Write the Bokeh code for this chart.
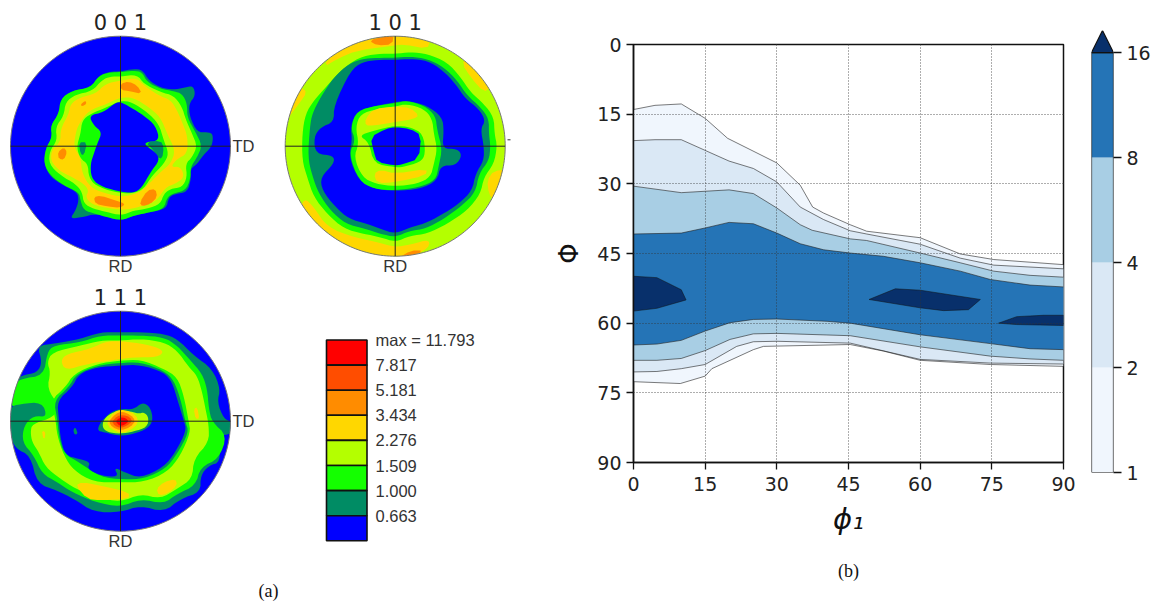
from bokeh.plotting import figure
from bokeh.layouts import row, column
from bokeh.models import FixedTicker, Range1d, Title
from bokeh.core.properties import value
from bokeh.embed import file_html
from bokeh.resources import INLINE
import numpy as np

# ---------- (a) pole-figure data: contour outlines ----------
LEGEND_LABELS = ["max = 11.793", "7.817", "5.181", "3.434", "2.276", "1.509", "1.000", "0.663"]
LEGEND_COLORS = ["#ff0000", "#ff4d00", "#ff8c00", "#ffd700", "#b4ff00", "#14ff00", "#008c64", "#0000ff"]
RED, RORANGE, ORANGE, YELLOW, LIME, GREEN, TEAL, BLUE = LEGEND_COLORS

P001 = [
 (TEAL, [(360,213),(400,205),(425,208),(445,240),(480,262),(520,268),(550,262),(578,255),(585,285),(565,310),(568,350),(590,395),(620,395),(638,400),(635,437),(610,462),(590,490),(570,505),(572,535),(560,575),(525,580),(505,590),(497,625),(450,635),(400,645),(362,660),(320,650),(285,640),(245,650),(208,655),(225,630),(235,600),(230,575),(190,555),(150,530),(130,490),(135,445),(155,410),(150,375),(175,340),(180,295),(215,270),(270,262),(295,225),(330,213)]),
 (GREEN, [(360,215),(400,210),(425,215),(440,245),(480,265),(520,272),(545,280),(560,310),(560,350),(585,395),(605,435),(590,470),(570,500),(570,535),(555,570),(520,578),(500,590),(490,625),(450,635),(400,645),(362,660),(320,650),(285,640),(250,630),(240,600),(235,575),(190,555),(150,525),(130,490),(135,445),(155,410),(150,375),(175,340),(180,295),(215,270),(270,262),(295,225),(330,215)]),
 (LIME, [(360,228),(410,222),(430,250),(480,275),(520,285),(545,320),(555,355),(575,400),(590,437),(575,470),(555,490),(560,530),(545,560),(510,565),(490,580),(480,610),(440,625),(400,630),(362,645),(320,635),(280,625),(250,610),(245,575),(225,550),(180,525),(145,490),(148,450),(170,420),(165,380),(190,345),(195,305),(225,282),(275,272),(305,238),(330,228)]),
 (YELLOW, [(360,240),(410,232),(430,255),(475,285),(510,298),(530,330),(545,365),(562,410),(560,460),(530,475),(510,500),(540,498),(552,530),(525,550),(495,560),(470,600),(430,615),(380,628),(330,625),(275,612),(255,590),(265,570),(250,550),(215,530),(175,510),(150,480),(155,445),(180,425),(180,385),(205,340),(210,310),(240,290),(285,280),(315,250)]),
 (LIME, [(360,290),(400,292),(445,320),(480,350),(500,400),(525,450),(510,490),(485,510),(450,545),(420,575),(370,590),(310,578),(270,560),(245,520),(240,470),(220,440),(225,400),(235,370),(265,330),(320,310)]),
 (GREEN, [(360,300),(395,305),(440,335),(475,370),(490,420),(505,460),(490,490),(455,525),(430,565),(395,580),(340,575),(285,555),(265,530),(262,490),(240,475),(228,440),(240,400),(245,360),(270,340),(320,320)]),
 (TEAL, [(435,425),(480,420),(490,440),(485,475),(470,470),(460,450)]),
 (TEAL, [(235,425),(260,425),(250,465),(240,460)]),
 (BLUE, [(358,303),(390,320),(430,345),(465,375),(478,420),(435,425),(435,435),(465,455),(478,478),(450,515),(425,560),(400,578),(350,572),(295,555),(272,530),(270,490),(280,460),(290,430),(305,395),(280,375),(265,345),(310,335),(340,310)]),
 (ORANGE, [(360,250),(385,243),(410,255),(425,280),(385,272),(362,268)]),
 (ORANGE, [(172,455),(190,440),(200,455),(190,478),(175,475)]),
 (ORANGE, [(280,590),(300,585),(345,600),(375,610),(360,622),(320,618),(285,610)]),
 (ORANGE, [(418,605),(440,570),(465,565),(470,590),(450,610),(425,618)]),
 (ORANGE, [(240,312),(255,300),(258,310),(245,318)]),
]
P101 = [
 (YELLOW, [(160,140),(200,115),(260,90),(370,75),(400,72),(470,85),(480,60),(374,30),(270,50),(180,90)]),
 (YELLOW, [(575,130),(600,170),(640,215),(660,200),(640,140),(590,110)]),
 (YELLOW, [(55,290),(85,250),(110,215),(90,200),(60,240),(40,290)]),
 (YELLOW, [(650,480),(655,520),(670,540),(710,500),(715,450),(670,450)]),
 (YELLOW, [(100,530),(130,560),(170,620),(250,650),(320,665),(372,680),(420,672),(480,655),(470,690),(374,725),(200,690),(80,590)]),
 (ORANGE, [(295,60),(340,48),(370,40),(365,72),(320,75)]),
 (ORANGE, [(385,715),(420,690),(460,690),(420,715)]),
 (GREEN, [(374,100),(420,95),(470,100),(530,125),(570,170),(600,215),(640,250),(670,290),(672,340),(680,377),(670,430),(640,470),(630,520),(590,570),(530,610),(470,640),(420,645),(374,665),(330,650),(280,640),(220,625),(170,580),(130,530),(110,470),(95,420),(95,340),(105,280),(130,240),(170,195),(210,150),(265,110),(320,100)]),
 (TEAL, [(374,112),(420,108),(470,115),(520,140),(560,180),(590,225),(630,260),(655,295),(655,340),(660,377),(655,420),(625,460),(615,515),(575,555),(520,595),(465,625),(420,630),(374,650),(330,640),(285,625),(225,610),(180,570),(145,520),(125,465),(112,410),(118,320),(125,280),(150,230),(190,170),(235,130),(275,115),(320,112)]),
 (BLUE, [(374,118),(420,115),(470,120),(515,148),(555,190),(585,235),(625,265),(645,300),(630,325),(640,377),(640,420),(615,460),(605,510),(565,550),(510,585),(460,610),(420,620),(374,640),(330,625),(290,610),(235,595),(195,560),(155,510),(150,470),(190,430),(190,405),(135,400),(130,350),(150,320),(190,305),(190,255),(240,150),(275,125),(320,118)]),
 (TEAL, [(374,245),(410,240),(470,255),(515,290),(520,330),(515,385),(560,385),(575,405),(555,435),(510,435),(500,480),(450,505),(374,512),(310,505),(265,480),(235,410),(245,360),(240,315),(260,270),(320,255)]),
 (GREEN, [(374,248),(410,240),(460,255),(495,285),(500,330),(515,385),(505,435),(495,480),(445,500),(374,510),(310,505),(265,480),(235,400),(255,360),(240,320),(260,270),(320,255)]),
 (LIME, [(374,258),(410,250),(460,265),(485,295),(490,340),(500,385),(490,430),(480,470),(440,490),(374,498),(315,490),(275,470),(250,410),(265,370),(255,320),(270,280),(320,265)]),
 (YELLOW, [(285,295),(310,265),(374,258),(420,262),(445,285),(430,295),(374,305),(310,315),(285,315)]),
 (YELLOW, [(310,460),(330,448),(374,460),(470,445),(465,465),(374,485),(320,488)]),
 (GREEN, [(374,315),(420,320),(458,340),(465,400),(450,425),(395,440),(374,440),(310,430),(295,365),(265,345),(310,330)]),
 (BLUE, [(374,320),(420,325),(452,345),(445,415),(395,432),(374,435),(320,425),(310,395),(300,350),(345,325)]),
]
P111 = [
 (TEAL, [(360,140),(420,140),(490,145),(530,160),(580,210),(635,250),(660,310),(650,350),(670,400),(695,410),(695,445),(655,450),(660,530),(625,540),(600,570),(600,620),(540,640),(490,680),(420,660),(360,680),(280,680),(220,640),(170,615),(110,595),(90,510),(45,490),(25,440),(25,370),(60,345),(45,290),(60,270),(110,262),(125,230),(110,180),(160,175),(240,160),(300,140)]),
 (GREEN, [(360,150),(420,150),(490,155),(530,180),(570,225),(605,265),(620,310),(625,370),(635,410),(680,450),(655,520),(600,545),(585,600),(530,625),(490,655),(420,640),(360,665),(285,650),(215,620),(170,590),(125,565),(100,510),(65,470),(70,420),(100,390),(140,395),(125,350),(60,355),(25,365),(30,300),(60,280),(130,270),(140,200),(160,180),(240,170),(300,150)]),
 (LIME, [(360,165),(420,160),(490,170),(530,195),(565,245),(590,270),(605,320),(615,370),(625,420),(625,470),(580,520),(575,580),(530,610),(480,640),(420,625),(360,650),(290,635),(225,610),(180,580),(135,545),(115,500),(95,470),(90,440),(95,415),(160,395),(175,360),(140,310),(150,260),(140,230),(155,200),(240,180),(300,165)]),
 (YELLOW, [(180,225),(200,205),(270,190),(320,165),(400,170),(470,185),(490,200),(470,215),(400,215),(330,225),(260,235),(195,255)]),
 (YELLOW, [(225,600),(245,590),(300,600),(385,620),(385,640),(300,645),(260,640)]),
 (YELLOW, [(468,610),(490,590),(525,580),(530,600),(500,625),(475,630)]),
 (YELLOW, [(580,370),(590,365),(597,400),(585,400)]),
 (YELLOW, [(125,435),(135,440),(132,460),(127,455)]),
 (GREEN, [(360,225),(420,222),(490,250),(530,275),(550,330),(565,410),(570,440),(540,510),(500,560),(430,590),(360,590),(280,590),(220,555),(190,510),(170,450),(165,400),(150,345),(195,305),(220,265),(290,235)]),
 (TEAL, [(360,232),(420,230),(490,255),(520,285),(540,340),(555,410),(565,440),(530,505),(495,550),(430,580),(370,582),(300,575),(235,530),(190,505),(175,450),(170,400),(160,345),(205,305),(228,265),(290,240)]),
 (BLUE, [(360,240),(420,238),(490,260),(515,290),(530,340),(550,405),(558,435),(525,500),(490,545),(420,578),(372,560),(340,545),(355,575),(300,570),(260,550),(270,530),(235,520),(195,510),(180,460),(175,400),(170,345),(215,305),(235,265),(290,245)]),
 (TEAL, [(218,432),(225,425),(232,445),(222,448)]),
 (TEAL, [(290,435),(300,410),(330,380),(360,370),(400,372),(425,350),(450,365),(458,405),(440,430),(400,445),(360,452),(310,440)]),
 (LIME, [(305,425),(310,400),(340,378),(380,375),(415,385),(430,380),(445,395),(440,425),(400,438),(360,445),(320,440)]),
 (YELLOW, [(318,410),(340,380),(360,372),(390,378),(415,400),(405,425),(365,445),(330,430)]),
 (ORANGE, [(325,408),(345,385),(365,378),(390,388),(405,405),(390,425),(360,435),(335,425)]),
 (RORANGE, [(335,407),(350,392),(368,388),(388,395),(395,407),(380,420),(360,428),(342,420)]),
 (RED, [(345,407),(358,396),(375,397),(385,408),(372,418),(358,422)]),
]
POLE_TITLES = ["0 0 1", "1 0 1", "1 1 1"]

# ---------- (b) orientation-distribution section, contour boundaries (phi1, Phi) ----------
L1_UP = [(0,14),(4.5,13.1),(10,12.8),(15,15.9),(19.7,20.2),(30,25.5),(34.9,30.3),(37.5,35),(39.8,36.3),(45.35,38.8),(48.8,40.2),(60,41.6),(68.4,45.1),(75.4,46.3),(90,47.4)]
L2_UP = [(0,20.7),(4.5,20.5),(10,20.5),(15,22.8),(20,25.1),(25.1,26.7),(30,29.6),(34.9,35),(39.8,37.7),(45.35,40.1),(48.8,40.8),(60,43),(68.4,46),(75.4,47.5),(90,48.3)]
L4_UP = [(0,30.5),(10,31.9),(15,31.6),(20,31.3),(25.1,32.1),(30,35.2),(34.9,38.8),(37.4,40),(45.35,41.85),(48.8,42.2),(60,44.9),(68.4,47),(75.4,48.8),(83,49.7),(90,50.1)]
L8_UP = [(0,40.8),(10,40.6),(15,39.5),(20,38.3),(25.1,38.6),(30,40.6),(34.9,42.9),(39.8,44.2),(45.35,44.9),(52.3,45.6),(60,47),(68.4,48.8),(74.7,50.6),(83,51.8),(90,52.2)]
L8_LO = [(0,64.7),(4.9,64.5),(10,63.7),(15,61.7),(20.2,59.9),(25.1,59.2),(30,59.1),(40.5,59.6),(45.35,60),(60,62.5),(74.7,64.4),(83,65.5),(90,65.7)]
L4_LO = [(0,68),(4.9,68),(10,67.6),(15,65.9),(20.2,63.5),(25.1,62.3),(30,62.2),(45.35,62.7),(60,65.1),(74.7,67.1),(83,67.7),(90,68)]
L2_LO = [(0,70.5),(4.9,70.4),(10,69.8),(15,68.9),(21.6,65),(25.1,64),(30,63.9),(45.35,64.3),(60,67.8),(74.7,68.6),(90,68.8)]
L1_LO = [(0,72.6),(9.8,73),(15,71.4),(16.4,69.8),(25.1,65.7),(27.2,65),(45.35,64.6),(52.3,66),(60,68),(74.7,68.9),(90,69.3)]
PEAK_A = [(0,49.9),(4.9,50.2),(10,52.8),(11,55),(4.9,56.8),(0,57.4)]
PEAK_B = [(49.3,54.9),(54.8,52.6),(60,52.9),(72.6,54.9),(70.1,57.1),(64.9,57.3),(60,56.7)]
PEAK_C = [(76.4,60),(80.2,58.6),(85.8,58.3),(90,58.3),(90,60.5),(80.2,60.3)]
BAND_COLORS = ["#f0f6fd", "#dae8f5", "#a8cee4", "#2574b6"]
PEAK_COLOR = "#08306b"
LEVELS = ["1", "2", "4", "8", "16"]
TICKS = [0, 15, 30, 45, 60, 75, 90]

# ---------- layout constants ----------
H = 604
W_LEFT, W_MID, W_BAR = 551, 527, 76
GREY = "#333333"


def smooth(pts):
    a = np.array(pts, float)
    n = 2 if len(pts) > 10 else 1
    for _ in range(n):
        b = np.roll(a, -1, axis=0)
        a = np.column_stack([0.75 * a + 0.25 * b, 0.25 * a + 0.75 * b]).reshape(-1, 2)
    return a


left = figure(width=W_LEFT, height=H, x_range=Range1d(0, W_LEFT), y_range=Range1d(H, 0),
              output_backend="svg", toolbar_location=None, min_border=0, outline_line_color=None)
left.axis.visible = False
left.grid.visible = False

R = 110.0
POLES = [(P001, (360, 437), (120, 145.7), POLE_TITLES[0], 22),
         (P101, (374, 377), (394.7, 145.7), POLE_TITLES[1], 22),
         (P111, (360, 407), (120, 420.7), POLE_TITLES[2], 297)]
for layers, (zx, zy), (cx, cy), title, ty in POLES:
    base = LIME if layers is P101 else BLUE
    th = np.linspace(0, 2 * np.pi, 241)
    left.patch(cx + R * np.cos(th), cy + R * np.sin(th), fill_color=base, line_color=None)
    for col, pts in layers:
        s = smooth(pts)
        dx, dy = (s[:, 0] - zx) / 3.0, (s[:, 1] - zy) / 3.0
        r = np.hypot(dx, dy)
        k = np.minimum(1.0, R / np.maximum(r, 1e-6))
        left.patch(cx + dx * k, cy + dy * k, fill_color=col, line_color=None)
    left.line(cx + R * np.cos(th), cy + R * np.sin(th), line_color="#777777", line_width=1)
    left.segment([cx - R, cx], [cy, cy - R], [cx + R, cx], [cy, cy + R], line_color="#222222", line_width=1)
    left.text([cx], [ty], text=[title], text_font=value("DejaVu Sans"), text_font_size="21px",
              text_align="center", text_baseline="middle", text_color="#222222")
    left.text([cx], [cy + R + 10], text=["RD"], text_font=value("Liberation Sans"), text_font_size="16.5px",
              text_align="center", text_baseline="middle", text_color=GREY)
    if layers is not P101:
        left.text([cx + R + 2], [cy], text=["TD"], text_font=value("Liberation Sans"), text_font_size="16.5px",
                  text_align="left", text_baseline="middle", text_color=GREY)
left.segment([507], [139.3], [510], [139.3], line_color="#333333", line_width=1)

# legend of the pole figures
leg_top, leg_step = 339.5, 25.1
for i, (lab, col) in enumerate(zip(LEGEND_LABELS, LEGEND_COLORS)):
    left.quad(left=[326], right=[366.5], top=[leg_top + i * leg_step], bottom=[leg_top + (i + 1) * leg_step],
              fill_color=col, line_color="#111111", line_width=1.6)
    left.text([375], [leg_top + i * leg_step], text=[lab], text_font=value("Liberation Sans"), text_font_size="16.5px",
              text_align="left", text_baseline="middle", text_color=GREY)
left.text([268], [590], text=["(a)"], text_font=value("Liberation Serif"), text_font_size="18px",
          text_align="center", text_baseline="middle", text_color="#111111")

# ---------- main axes ----------
p = figure(width=W_MID, height=H, x_range=Range1d(0, 90), y_range=Range1d(90, 0),
           output_backend="svg", toolbar_location=None,
           min_border_left=82, min_border_right=15, min_border_top=44, min_border_bottom=H - 462,
           outline_line_color="#111111", outline_line_width=1.5)


def band(up, lo, color):
    xs = [a for a, _ in up] + [a for a, _ in lo][::-1]
    ys = [b for _, b in up] + [b for _, b in lo][::-1]
    p.patch(xs, ys, fill_color=color, line_color=None)


for (up, lo), col in zip([(L1_UP, L1_LO), (L2_UP, L2_LO), (L4_UP, L4_LO), (L8_UP, L8_LO)], BAND_COLORS):
    band(up, lo, col)
for pk in (PEAK_A, PEAK_B, PEAK_C):
    p.patch([a for a, _ in pk], [b for _, b in pk], fill_color=PEAK_COLOR, line_color="#111111", line_width=0.5)
for ln in (L1_UP, L2_UP, L4_UP, L8_UP, L8_LO, L4_LO, L2_LO, L1_LO):
    p.line([a for a, _ in ln], [b for _, b in ln], line_color="#222222", line_width=0.6)

for ax in (p.xaxis[0], p.yaxis[0]):
    ax.ticker = FixedTicker(ticks=TICKS)
    ax.major_tick_out = 7
    ax.major_tick_in = 0
    ax.minor_tick_out = 0
    ax.major_tick_line_width = 1.3
    ax.major_tick_line_color = "#111111"
    ax.axis_line_width = 1.5
    ax.axis_line_color = "#111111"
    ax.major_label_text_font = "DejaVu Sans"
    ax.major_label_text_font_size = "19px"
    ax.major_label_text_color = "#222222"
    ax.axis_label_text_font = "DejaVu Sans"
    ax.axis_label_text_font_style = "italic"
    ax.axis_label_text_color = "#111111"
p.yaxis[0].major_label_orientation = "horizontal"
p.xaxis[0].major_label_standoff = 7
p.xaxis[0].axis_label = "ϕ₁"
p.xaxis[0].axis_label_text_font_size = "29px"
p.xaxis[0].axis_label_standoff = 8
p.yaxis[0].axis_label = "Φ"
p.yaxis[0].axis_label_text_font_size = "26px"
p.yaxis[0].axis_label_text_font_style = "normal"
p.yaxis[0].axis_label_standoff = 10
p.grid.ticker = FixedTicker(ticks=TICKS[1:-1])
p.grid.grid_line_color = "#333333"
p.grid.grid_line_dash = "1 2"
p.grid.grid_line_width = 0.8
p.grid.level = "overlay"

p.add_layout(Title(text="(b)", align="center", text_font="Liberation Serif", text_font_size="18px",
                   text_font_style="normal", text_color="#111111", standoff=41), "below")

# ---------- colour bar ----------
idx = list(range(len(LEVELS)))
cb = figure(width=W_BAR, height=H, x_range=Range1d(0, 1), y_range=Range1d(0, 4.21),
            output_backend="svg", toolbar_location=None, y_axis_location="right",
            min_border_left=13, min_border_right=41, min_border_top=30, min_border_bottom=H - 472,
            outline_line_color=None)
cb.xaxis.visible = False
cb.grid.visible = False
cb.quad(left=0, right=1, bottom=idx[:-1], top=idx[1:], fill_color=BAND_COLORS, line_color=None)
cb.patch([0, 0.5, 1], [idx[-1], 4.21, idx[-1]], fill_color=PEAK_COLOR, line_color="#111111", line_width=1.2)
cb.line([0, 0, 1, 1, 0], [idx[-1], 0, 0, idx[-1], idx[-1]], line_color="#111111", line_width=1.2)
yax = cb.yaxis[0]
yax.ticker = FixedTicker(ticks=idx)
yax.major_label_overrides = {i: s for i, s in zip(idx, LEVELS)}
yax.bounds = (0, 4)
yax.axis_line_color = None
yax.major_tick_out = 8
yax.major_tick_in = 0
yax.minor_tick_out = 0
yax.major_tick_line_width = 1.3
yax.major_tick_line_color = "#111111"
yax.major_label_text_font = "DejaVu Sans"
yax.major_label_text_font_size = "19px"
yax.major_label_text_color = "#222222"
yax.major_label_orientation = "horizontal"

open("out.html", "w").write(file_html(row(column(left), column(p), column(cb), spacing=0), INLINE))
